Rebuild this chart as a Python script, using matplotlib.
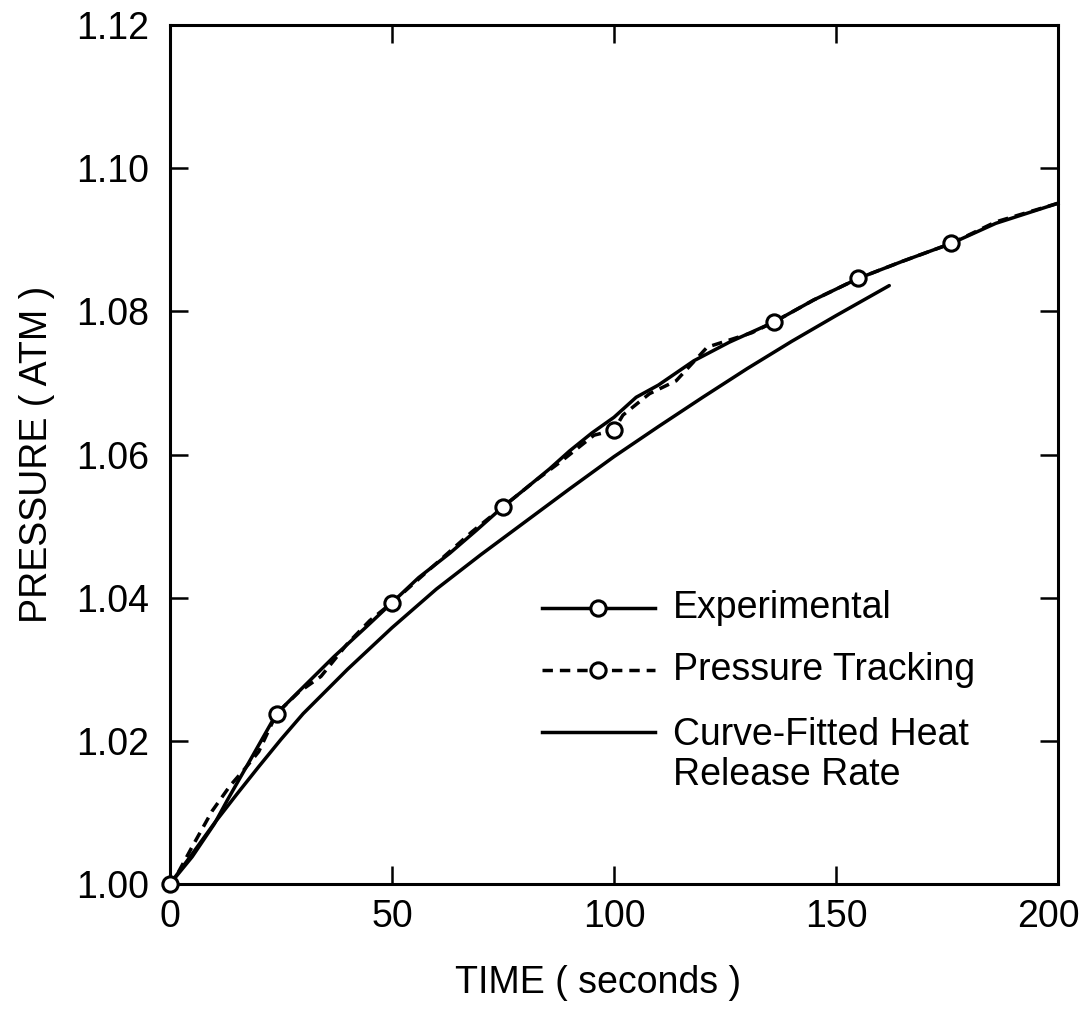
import matplotlib
matplotlib.use("Agg")
import matplotlib.pyplot as plt
from matplotlib.lines import Line2D
from matplotlib.transforms import ScaledTranslation

# --- data ---
exp_time = [0, 5, 10, 13, 18.7, 24, 30, 37, 44, 50, 56, 63, 69, 75, 80, 85.5, 90,
            95, 100, 105, 110, 118, 126, 136, 145, 155, 165, 176, 186, 200]
exp_pres = [1.000, 1.0038, 1.0084, 1.0118, 1.0180, 1.0238, 1.0275, 1.0318, 1.0358,
            1.0393, 1.0428, 1.0462, 1.0494, 1.0527, 1.0552, 1.0580, 1.0605, 1.0630,
            1.0652, 1.0680, 1.0697, 1.0731, 1.0757, 1.0785, 1.0816, 1.0846, 1.0870,
            1.0895, 1.0923, 1.0951]
exp_marks = [0, 24, 50, 75, 136, 155, 176]

pt_time = [0, 5, 9.5, 13.5, 17, 20, 24, 29, 34, 40, 45, 50, 60, 68, 75, 82, 88,
           95.5, 100, 102, 108, 114, 121, 126, 131, 136, 145, 155, 165, 176, 186, 200]
pt_pres = [0.9995, 1.0052, 1.0102, 1.0137, 1.0162, 1.0185, 1.0238, 1.0268, 1.0290,
           1.0336, 1.0368, 1.0393, 1.0448, 1.0492, 1.0527, 1.0562, 1.0590, 1.0627,
           1.0634, 1.0655, 1.0685, 1.0703, 1.0750, 1.0760, 1.0770, 1.0785, 1.0816,
           1.0846, 1.0870, 1.0895, 1.0925, 1.0951]
pt_marks = [100]

fit_time = [0, 5, 10, 15, 20, 25, 30, 40, 50, 60, 70, 80, 90, 100, 110, 120, 130,
            140, 150, 162]
fit_pres = [1.000, 1.0042, 1.0085, 1.0125, 1.0164, 1.0202, 1.0238, 1.0300, 1.0358,
            1.0412, 1.0460, 1.0506, 1.0552, 1.0597, 1.0639, 1.0680, 1.0720, 1.0758,
            1.0794, 1.0836]

x_ticks = [0, 50, 100, 150, 200]
y_ticks = [1.00, 1.02, 1.04, 1.06, 1.08, 1.10, 1.12]

labels = ["Experimental", "Pressure Tracking", "Curve-Fitted Heat\nRelease Rate"]

plt.rcParams["font.family"] = ["Liberation Sans", "DejaVu Sans"]
FS = 27
LW = 2.5
MK = dict(marker="o", markersize=11, markerfacecolor="white",
          markeredgecolor="black", markeredgewidth=2.2)

fig = plt.figure(figsize=(10.84, 10.14), dpi=100)
ax = fig.add_axes([0.1568, 0.1282, 0.8192, 0.8471])

ax.plot(fit_time, fit_pres, color="black", lw=LW, solid_capstyle="round")
ax.plot(pt_time, pt_pres, color="black", lw=LW, ls=(0, (3, 2)),
        markevery=[pt_time.index(t) for t in pt_marks], **MK)
# origin marker sits on the spines, so let this one draw over them
ax.plot(exp_time, exp_pres, color="black", lw=LW, clip_on=False, zorder=3,
        markevery=[exp_time.index(t) for t in exp_marks], **MK)

ax.set_xlim(0, 200)
ax.set_ylim(1.00, 1.12)
ax.set_xticks(x_ticks)
ax.set_xticklabels([str(t) for t in x_ticks])
ax.set_yticks(y_ticks)
ax.set_yticklabels([f"{v:.2f}" for v in y_ticks])
ax.tick_params(direction="in", length=13, width=1.8, top=True, right=True,
               labelsize=FS)
ax.tick_params(axis="x", pad=11)
ax.tick_params(axis="y", pad=15)
for s in ax.spines.values():
    s.set_linewidth(2.2)

# last x label sits close to the figure edge, nudge it left a little
last = ax.get_xticklabels()[-1]
last.set_transform(last.get_transform() + ScaledTranslation(-0.1, 0, fig.dpi_scale_trans))

ax.set_xlabel("TIME ( seconds )", fontsize=FS)
ax.set_ylabel("PRESSURE ( ATM )", fontsize=FS)
ax.xaxis.set_label_coords(0.482, -0.094)
ax.yaxis.set_label_coords(-0.13, 0.5)

# legend drawn by hand so the third handle sits on the first text line
leg_x0, leg_x1, leg_xm, txt_x = 0.419, 0.546, 0.482, 0.566
rows = [0.321, 0.249, 0.177]
styles = [dict(ls="-"), dict(ls=(0, (3, 2))), dict(ls="-")]
for i, (y, st) in enumerate(zip(rows, styles)):
    ax.add_line(Line2D([leg_x0, leg_x1], [y, y], transform=ax.transAxes,
                       color="black", lw=LW, **st))
    if i < 2:
        ax.add_line(Line2D([leg_xm], [y], transform=ax.transAxes, ls="none", **MK))
ax.text(txt_x, rows[0], labels[0], transform=ax.transAxes, fontsize=FS, va="center")
ax.text(txt_x, rows[1], labels[1], transform=ax.transAxes, fontsize=FS, va="center")
ax.text(txt_x, 0.150, labels[2], transform=ax.transAxes, fontsize=FS, va="center",
        linespacing=1.15)

fig.savefig("out.png", dpi=100)
